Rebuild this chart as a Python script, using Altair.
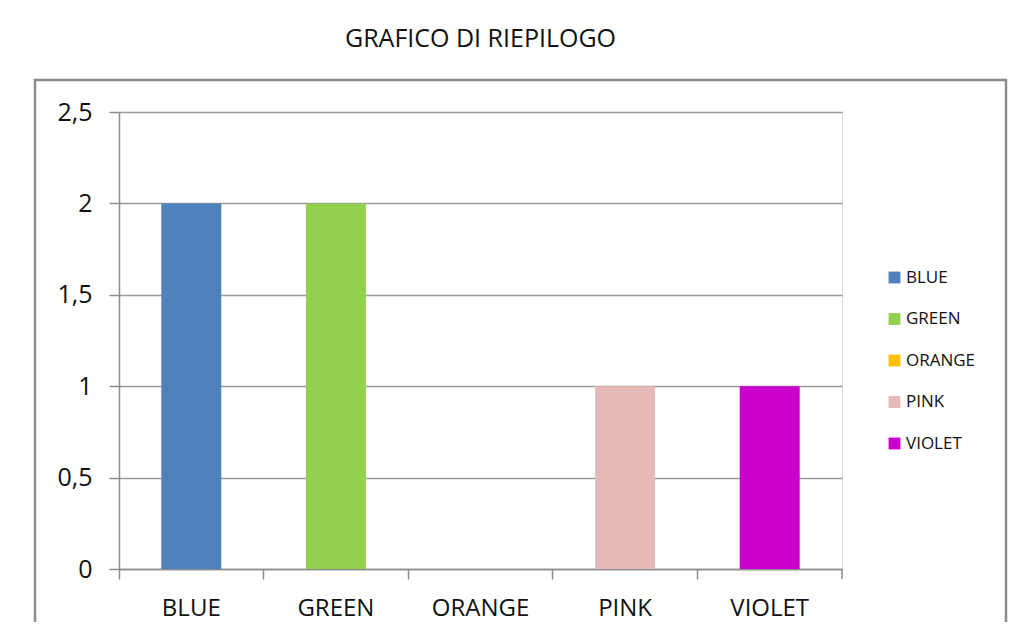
import altair as alt
import pandas as pd

categories = ["BLUE", "GREEN", "ORANGE", "PINK", "VIOLET"]
values = [2, 2, 0, 1, 1]
colors = ["#4F81BD", "#92D050", "#FFC000", "#E6B9B8", "#CC00CC"]
y_ticks = [0, 0.5, 1, 1.5, 2, 2.5]
title_text = "GRAFICO DI RIEPILOGO"

df = pd.DataFrame({"cat": categories, "val": values})

W, H = 723, 457
FONT = "Open Sans"
GRAY = "#8c8c8c"
TXT = "#111111"

frame = alt.Chart(pd.DataFrame({"k": [0]})).mark_rect(
    fillOpacity=0, stroke=GRAY, strokeWidth=2.5
).encode(
    x=alt.value(-84), x2=alt.value(887), y=alt.value(-32), y2=alt.value(H + 120)
)

bars = alt.Chart(df).mark_bar(width={"band": 0.415}).encode(
    x=alt.X(
        "cat:N",
        sort=categories,
        scale=alt.Scale(paddingInner=0, paddingOuter=0),
        axis=alt.Axis(
            title=None, labelAngle=0, bandPosition=0, tickSize=10,
            labelFontSize=24, labelPadding=17, labelFont=FONT, labelColor=TXT,
            domainColor=GRAY, tickColor=GRAY, domainWidth=1.5, tickWidth=1.5, grid=False,
        ),
    ),
    y=alt.Y(
        "val:Q",
        scale=alt.Scale(domain=[0, 2.5], nice=False),
        axis=alt.Axis(
            title=None, values=y_ticks, tickSize=10, labelPadding=17,
            labelExpr="replace(toString(datum.value), '.', ',')",
            labelFontSize=25, labelFont=FONT, labelColor=TXT,
            domainColor=GRAY, tickColor=GRAY, gridColor="#9a9a9a",
            domainWidth=1.5, tickWidth=1.5, gridWidth=1.5,
        ),
    ),
    color=alt.Color(
        "cat:N",
        sort=categories,
        scale=alt.Scale(domain=categories, range=colors),
        legend=alt.Legend(
            title=None, orient="none", legendX=767, legendY=157,
            symbolType="square", symbolSize=140, symbolStrokeWidth=0,
            labelFontSize=17, labelFont=FONT, labelColor=TXT,
            rowPadding=23.5, labelOffset=3,
        ),
    ),
)

end_tick = alt.Chart(pd.DataFrame({"k": [0]})).mark_rule(color=GRAY, strokeWidth=1.5).encode(
    x=alt.value(W), y=alt.value(H), y2=alt.value(H + 10)
)

chart = alt.layer(frame, bars, end_tick).properties(
    width=W,
    height=H,
    title=alt.Title(
        title_text, fontSize=25, font=FONT, fontWeight="normal",
        anchor="middle", frame="group", offset=27, color=TXT,
    ),
    autosize=alt.AutoSizeParams(type="none"),
    padding={"left": 111, "top": 104, "right": 168, "bottom": 53},
).configure_view(stroke=None).configure(background="white")

chart.save("out.html", embed_options={"renderer": "svg", "actions": False})
